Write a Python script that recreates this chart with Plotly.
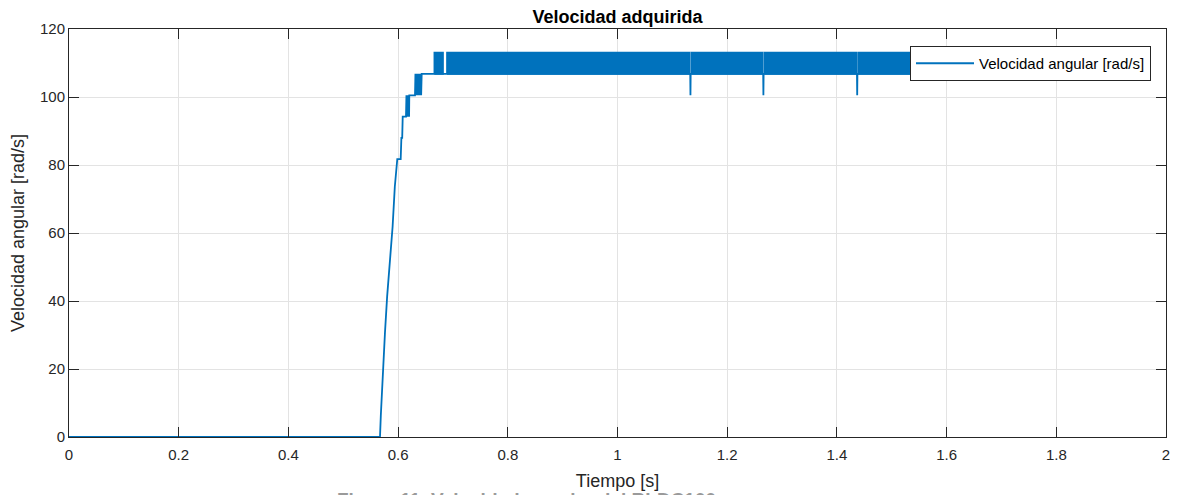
import plotly.graph_objects as go

# ---- data ----
# start-up ramp (time [s], speed [rad/s])
rise_t = [0.0, 0.567, 0.5685, 0.570, 0.573, 0.576, 0.580, 0.585, 0.590, 0.594,
          0.5985, 0.6047, 0.6060, 0.6075, 0.6084, 0.6144, 0.6152, 0.6160, 0.6172,
          0.6180, 0.6192, 0.6200, 0.6204, 0.6308, 0.6316, 0.6326, 0.6338, 0.6348,
          0.6362, 0.6372, 0.6386, 0.6396, 0.6410, 0.6420, 0.6430]
rise_v = [0.0, 0.0, 6.3, 11.9, 18.7, 30.5, 41.3, 51.1, 61.9, 73.6,
          81.7, 81.7, 88.0, 88.0, 94.2, 94.2, 100.5, 94.2, 100.5,
          94.2, 100.5, 94.2, 100.5, 100.5, 106.8, 100.5, 106.8, 100.5,
          106.8, 100.5, 106.8, 100.5, 106.8, 100.5, 106.8]

# steady state: fast switching between two speed levels
band_low = 106.8
band_high = 113.1
band_start = [0.666, 0.689, 1.1345, 1.2675, 1.4385]
band_end = [0.682, 1.1315, 1.2645, 1.4355, 1.912]
end_time = 1.912

# isolated dips
dip_t = [1.133, 1.266, 1.437]
dip_v = [100.5, 100.5, 100.5]

x_ticks = [0, 0.2, 0.4, 0.6, 0.8, 1.0, 1.2, 1.4, 1.6, 1.8, 2.0]
x_tick_labels = ["0", "0.2", "0.4", "0.6", "0.8", "1", "1.2", "1.4", "1.6", "1.8", "2"]
y_ticks = [0, 20, 40, 60, 80, 100, 120]
y_tick_labels = ["0", "20", "40", "60", "80", "100", "120"]

# ---- build traces ----
LINE = "#0072BD"
AX = "#262626"
FONT = "Liberation Sans, Arial, sans-serif"

main_t = list(rise_t)
main_v = list(rise_v)
for d, v in zip(dip_t, dip_v):
    main_t += [d - 0.0004, d, d + 0.0004]
    main_v += [band_low, v, band_low]
main_t.append(end_time)
main_v.append(band_low)

bx, by = [], []
for s, e in zip(band_start, band_end):
    bx += [s, e, e, s, s, None]
    by += [band_low, band_low, band_high, band_high, band_low, None]

fig = go.Figure()
fig.add_trace(go.Scatter(x=bx, y=by, mode="lines", fill="toself",
                         fillcolor=LINE, line=dict(color=LINE, width=1.5),
                         showlegend=False, hoverinfo="skip"))
fig.add_trace(go.Scatter(x=main_t, y=main_v, mode="lines",
                         line=dict(color=LINE, width=1.8),
                         name="Velocidad angular [rad/s]"))

W, H = 1180, 495
L, R, T, B = 69, 1166, 29, 437
pw, ph = R - L, B - T

axis_common = dict(showline=True, linecolor=AX, linewidth=1, mirror="allticks",
                   ticks="inside", ticklen=10, tickwidth=1, tickcolor=AX,
                   showgrid=True, gridcolor="#e3e3e3", gridwidth=1,
                   zeroline=False, automargin=False,
                   tickfont=dict(family=FONT, size=15, color=AX))

fig.update_layout(
    width=W, height=H,
    margin=dict(l=L, r=W - R, t=T, b=H - B, autoexpand=False),
    paper_bgcolor="white", plot_bgcolor="white",
    font=dict(family=FONT, color=AX),
    title=dict(text="<b>Velocidad adquirida</b>", x=(L + R) / 2 / W, xanchor="center",
               y=1 - 17 / H, yanchor="middle", automargin=False,
               font=dict(size=18, color="#000000")),
    xaxis=dict(range=[0, 2], tickvals=x_ticks, ticktext=x_tick_labels,
               ticklabelstandoff=4,
               title=dict(text="Tiempo [s]", font=dict(size=18, color=AX), standoff=12),
               **axis_common),
    yaxis=dict(range=[0, 120], tickvals=y_ticks, ticktext=y_tick_labels,
               title=dict(text="Velocidad angular [rad/s]", font=dict(size=18, color=AX),
                          standoff=10),
               **axis_common),
    legend=dict(x=(910 - L) / pw, y=(B - 46) / ph, xanchor="left", yanchor="top",
                bgcolor="white", bordercolor=AX, borderwidth=1,
                font=dict(size=15, color="#000000"), itemwidth=58),
    showlegend=True,
)

# caption of the source document, cut off by the bottom of the image
fig.add_annotation(text="<b>Figura 11. Velocidad angular del BLDC100</b>",
                   xref="paper", yref="paper", x=(335 - L) / pw, xanchor="left",
                   y=(B - 487) / ph, yanchor="top", showarrow=False,
                   font=dict(size=19, color="#9a9a9a", family=FONT))

fig.write_html("out.html", config={"displayModeBar": False})
